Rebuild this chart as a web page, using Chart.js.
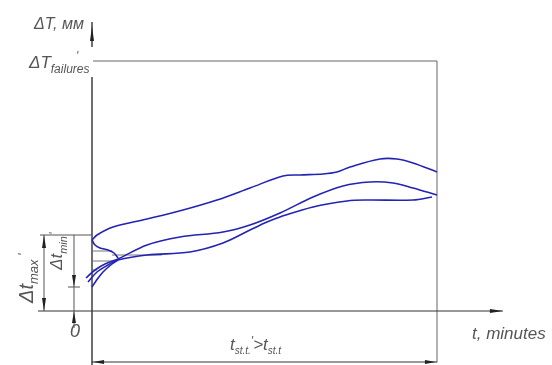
<!DOCTYPE html>
<html>
<head>
<meta charset="utf-8">
<script src="https://cdn.jsdelivr.net/npm/chart.js@4"></script>
<style>
  html, body { margin: 0; padding: 0; background: #fff; }
  #wrap { width: 552px; height: 365px; }
</style>
</head>
<body>
<div id="wrap"><canvas id="c"></canvas></div>
<script>
// deformation curves: t in % of the test span, ΔT in % of ΔT'failures
const upperX = [0, 1.45, 6.09, 15.94, 26.38, 36.23, 45.8, 55.36, 60.29, 66.96, 71.01, 74.78, 83.48, 88.41, 93.04, 100];
const upperY = [28.4, 30.4, 33.6, 36.8, 40.4, 44.4, 49.2, 54, 54.4, 54.8, 55.6, 57.6, 60.8, 60.8, 59.2, 55.6];

const hookX = [0, 0.87, 2.32, 4.64, 6.38, 7.54];
const hookY = [28.4, 26.4, 25.2, 24.4, 23.2, 21.2];

const midX = [-1.74, 0.87, 3.77, 7.54, 15.94, 25.51, 37.97, 45.8, 54.49, 64.06, 72.75, 80.58, 87.25, 93.04, 100];
const midY = [13.2, 16.4, 18.8, 20.8, 26.4, 29.6, 31.6, 34.4, 39.2, 45.6, 50, 51.6, 51.2, 49.2, 46.4];

const lowX = [-1.16, 1.45, 4.64, 7.54, 15.94, 28.41, 37.97, 45.8, 50.72, 54.49, 64.06, 73.91, 79.71, 93.04, 98.55];
const lowY = [11.6, 15.6, 18.4, 20.4, 22.4, 23.6, 27.2, 32.4, 35.6, 37.6, 41.6, 44, 44.4, 44.4, 45.6];

const auxX = [0, 1.16, 3.19, 5.8, 7.54];
const auxY = [9.6, 12, 15.6, 18.8, 20.4];

const yLabel = "ΔT, мм";
const xLabel = "t, minutes";

const pts = (xs, ys) => xs.map((x, i) => ({ x, y: ys[i] }));
const BLUE = "#2323b4";
const INK = "#222";
const FONT = '"Liberation Sans Narrow", "Liberation Sans", sans-serif';

function seg(ctx, x1, y1, x2, y2) {
  ctx.beginPath(); ctx.moveTo(x1, y1); ctx.lineTo(x2, y2); ctx.stroke();
}
// filled arrowhead, tip at (x,y)
function arrow(ctx, x, y, dir, len = 12, half = 2) {
  ctx.beginPath();
  ctx.moveTo(x, y);
  if (dir === "up") { ctx.lineTo(x - half, y + len); ctx.lineTo(x + half, y + len); }
  if (dir === "down") { ctx.lineTo(x - half, y - len); ctx.lineTo(x + half, y - len); }
  if (dir === "left") { ctx.lineTo(x + len, y - half); ctx.lineTo(x + len, y + half); }
  if (dir === "right") { ctx.lineTo(x - len, y - half); ctx.lineTo(x - len, y + half); }
  ctx.closePath(); ctx.fill();
}
// draw runs of [text, size, dy]; returns end x
function runs(ctx, x, y, parts) {
  parts.forEach(([t, size, dy]) => {
    ctx.font = `italic ${size}px ${FONT}`;
    ctx.fillText(t, x, y + dy);
    x += ctx.measureText(t).width;
  });
  return x;
}

const drawing = {
  id: "drawing",
  beforeDatasetsDraw(chart) {
    const ctx = chart.ctx;
    const X = v => chart.scales.x.getPixelForValue(v);
    const Y = v => chart.scales.y.getPixelForValue(v);
    ctx.save();
    ctx.strokeStyle = INK; ctx.fillStyle = INK; ctx.lineWidth = 1.3;

    // y axis (broken behind the failures label) and its arrow
    seg(ctx, X(0), Y(115.6), X(0), Y(105.6));
    seg(ctx, X(0), Y(93.6), X(0), Y(-21.6));
    arrow(ctx, X(0), Y(114), "up", 15, 2);
    ctx.lineWidth = 1;
    // failures level and right border
    ctx.strokeStyle = "#666";
    seg(ctx, X(0.3), Y(100), X(100), Y(100));
    seg(ctx, X(100), Y(100), X(100), Y(-20.6));
    ctx.strokeStyle = "#333";
    // x axis
    seg(ctx, X(-15.65), Y(0), X(119.1), Y(0));
    arrow(ctx, X(119.1), Y(0), "right", 13, 2);
    // bottom span dimension
    seg(ctx, X(0), Y(-20.4), X(100), Y(-20.4));
    arrow(ctx, X(0.3), Y(-20.4), "left", 11, 2);
    arrow(ctx, X(99.7), Y(-20.4), "right", 11, 2);

    // left dimensions Δt'max / Δt'min
    ctx.strokeStyle = "#555";
    seg(ctx, X(-15.07), Y(30.4), X(0), Y(30.4));
    seg(ctx, X(-13.91), Y(30.4), X(-13.91), Y(0));
    arrow(ctx, X(-13.91), Y(30.4), "up", 13, 2);
    arrow(ctx, X(-13.91), Y(0), "down", 13, 2);
    seg(ctx, X(-5.22), Y(30.4), X(-5.22), Y(-6.8));
    seg(ctx, X(-6.96), Y(9.6), X(-3.48), Y(9.6));
    arrow(ctx, X(-5.22), Y(9.6), "down", 12, 2);
    arrow(ctx, X(-5.22), Y(0), "up", 12, 2);

    // short level marks next to the axis
    ctx.strokeStyle = "#777";
    seg(ctx, X(0), Y(24), X(5.8), Y(24));
    seg(ctx, X(5.8), Y(22.4), X(20.3), Y(22.4));
    seg(ctx, X(0), Y(20), X(7.25), Y(20));
    seg(ctx, X(0), Y(16.4), X(1.45), Y(16.4));
    ctx.restore();
  },
  afterDraw(chart) {
    const ctx = chart.ctx;
    const X = v => chart.scales.x.getPixelForValue(v);
    const Y = v => chart.scales.y.getPixelForValue(v);
    ctx.save();
    ctx.fillStyle = "#555";
    ctx.textBaseline = "alphabetic";

    // y axis title
    ctx.font = `italic 16px ${FONT}`;
    ctx.fillText(yLabel, X(0) - 58, Y(113));
    // ΔT'failures
    let x = runs(ctx, X(0) - 63, Y(97.2), [["ΔT", 17, 0]]);
    runs(ctx, x, Y(97.2), [["failures", 12, 5]]);
    ctx.font = `italic 12px ${FONT}`;
    ctx.fillText("'", X(0) - 16, Y(100.4));

    // x axis title
    ctx.font = `italic 17px ${FONT}`;
    ctx.fillText(xLabel, X(0) + 380, Y(-11.2));

    // span label under the graph
    runs(ctx, X(0) + 138, Y(-15.6), [["t", 17, 0], ["st.t.", 10, 4], ["'", 12, -5], [">t", 17, 0], ["st.t", 10, 4]]);

    // rotated dimension labels
    ctx.save();
    ctx.translate(X(-13.91) - 11, Y(0) - 8);
    ctx.rotate(-Math.PI / 2);
    x = runs(ctx, 0, 0, [["Δt", 20, 0]]);
    runs(ctx, x, 0, [["max", 13, 5]]);
    ctx.font = `italic 13px ${FONT}`;
    ctx.fillText("'", x + 28, -6);
    ctx.restore();

    ctx.save();
    ctx.translate(X(-5.22) - 12, Y(30.4) + 35);
    ctx.rotate(-Math.PI / 2);
    x = runs(ctx, 0, 0, [["Δt", 17, 0]]);
    runs(ctx, x, 0, [["min", 11, 5]]);
    ctx.font = `italic 12px ${FONT}`;
    ctx.fillText("'", x + 19, -4);
    ctx.restore();

    // origin
    ctx.font = `italic 18px ${FONT}`;
    ctx.fillText("0", X(-5.22) - 4, Y(-10.4));
    ctx.restore();
  }
};

const lineSet = (xs, ys) => ({
  data: pts(xs, ys),
  borderColor: BLUE,
  borderWidth: 1.6,
  pointRadius: 0,
  tension: 0.35,
  fill: false
});

new Chart(document.getElementById("c"), {
  type: "line",
  data: {
    datasets: [
      lineSet(upperX, upperY),
      lineSet(hookX, hookY),
      lineSet(midX, midY),
      lineSet(lowX, lowY),
      lineSet(auxX, auxY)
    ]
  },
  options: {
    responsive: true,
    maintainAspectRatio: false,
    animation: false,
    layout: { padding: 0 },
    plugins: { legend: { display: false }, tooltip: { enabled: false } },
    scales: {
      x: { type: "linear", display: false, min: -26.667, max: 133.333 },
      y: { type: "linear", display: false, min: -21.6, max: 124.4 }
    }
  },
  plugins: [drawing]
});
</script>
</body>
</html>
